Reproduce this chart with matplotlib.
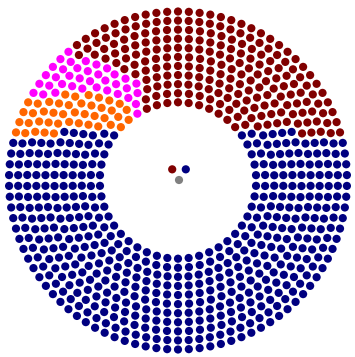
import numpy as np
import matplotlib
matplotlib.use("Agg")
import matplotlib.pyplot as plt
from matplotlib.patches import Circle
from matplotlib.collections import PatchCollection

# ---- data ----
party_names = ["Navy", "Orange", "Magenta", "Maroon", "Gray"]
party_colors = ["#000080", "#FF6600", "#FF00FF", "#800000", "#808080"]

# seats in each ring, inner -> outer
ring_seats = [46, 50, 58, 62, 66, 70, 78, 82, 86, 94, 98]
# seats per ring for each party in the upper half (left -> right)
navy_upper_left = [5, 5, 5, 5, 5, 5, 4, 4, 4, 4, 4]
orange_ring = [2, 3, 4, 4, 4, 4, 5, 5, 4, 4, 4]
magenta_ring = [1, 1, 2, 3, 3, 3, 4, 4, 5, 5, 6]
# centre cluster
centre_parties = ["Maroon", "Navy", "Gray"]

# ---- layout ----
W, H = 355, 357
fig = plt.figure(figsize=(W / 100, H / 100), dpi=100)
ax = fig.add_axes([0, 0, 1, 1])
ax.set_xlim(-178, W - 178)
ax.set_ylim(-(H - 180.5), 180.5)
ax.set_aspect("equal")
ax.axis("off")

r_inner, r_step, dot_r = 78.2, 9.08, 4.1
seats = {p: [] for p in party_names}
for i, n in enumerate(ring_seats):
    r = r_inner + i * r_step
    bu, o, p = navy_upper_left[i], orange_ring[i], magenta_ring[i]
    m = n // 2 - 2 * bu - o - p
    seq = (["Navy"] * bu + ["Orange"] * o + ["Magenta"] * p + ["Maroon"] * m)
    seq += ["Navy"] * (n - len(seq))
    for j, party in enumerate(seq):
        th = np.pi - (j + 0.5) * 2 * np.pi / n
        seats[party].append((r * np.cos(th), r * np.sin(th)))

# centre cluster (small ring)
c_ang = [np.deg2rad(a) for a in (155, 25, 270)]
for party, a in zip(centre_parties, c_ang):
    seats[party].append((1 + 7.5 * np.cos(a), 8 + 7.5 * np.sin(a)))

for party, col in zip(party_names, party_colors):
    pts = seats[party]
    if not pts:
        continue
    pc = PatchCollection([Circle(xy, dot_r) for xy in pts],
                         facecolor=col, edgecolor="none")
    ax.add_collection(pc)

fig.savefig("out.png", dpi=100, facecolor="white")
